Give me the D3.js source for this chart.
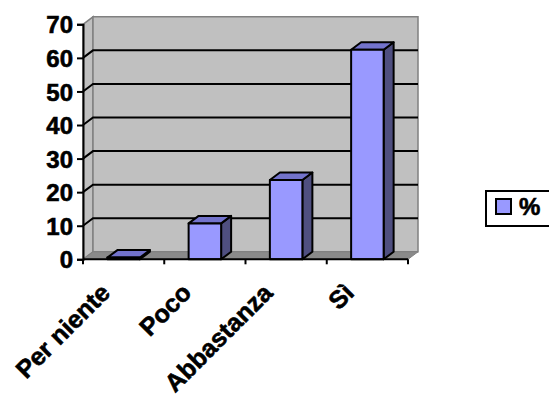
<!DOCTYPE html>
<html>
<head>
<meta charset="utf-8">
<script src="https://cdn.jsdelivr.net/npm/d3@7"></script>
<style>
  html, body { margin: 0; padding: 0; background: #fff; }
  svg { display: block; }
  text { font-family: "Liberation Sans", Arial, sans-serif; font-weight: bold; fill: #000; stroke: #000; stroke-width: 0.6px; }
</style>
</head>
<body>
<svg id="chart" width="549" height="399"></svg>
<script>
// Risposte (percentuali)
const categories = ["Per niente", "Poco", "Abbastanza", "Sì"];
const percent = [0.5, 10.7, 23.6, 62.4];
const yTicks = [0, 10, 20, 30, 40, 50, 60, 70];
const seriesName = "%";

const svg = d3.select("#chart");

// Front plane of the 3D box
const plotLeft = 83, plotRight = 408, plotBottom = 259.3, plotTop = 24.3;
// Depth offset of the back wall
const dx = 10, dy = -7.5;

const x = d3.scaleBand().domain(categories).range([plotLeft, plotRight]).paddingInner(0).paddingOuter(0);
const y = d3.scaleLinear().domain([0, 70]).range([plotBottom, plotTop]);

const wallFill = "#c0c0c0", wallStroke = "#808080", floorFill = "#8a8a8a";

// Left side wall
svg.append("polygon")
  .attr("points", [[plotLeft, plotTop], [plotLeft + dx, plotTop + dy], [plotLeft + dx, plotBottom + dy], [plotLeft, plotBottom]].join(" "))
  .attr("fill", wallFill).attr("stroke", wallStroke).attr("stroke-width", 1.5);

// Back wall
svg.append("polygon")
  .attr("points", [[plotLeft + dx, plotTop + dy], [plotRight + dx, plotTop + dy], [plotRight + dx, plotBottom + dy], [plotLeft + dx, plotBottom + dy]].join(" "))
  .attr("fill", wallFill).attr("stroke", wallStroke).attr("stroke-width", 1.5);

// Floor
svg.append("polygon")
  .attr("points", [[plotLeft, plotBottom], [plotLeft + dx, plotBottom + dy], [plotRight + dx, plotBottom + dy], [plotRight, plotBottom]].join(" "))
  .attr("fill", floorFill).attr("stroke", wallStroke).attr("stroke-width", 1);

// Gridlines: along the side wall and across the back wall
const grid = svg.append("g").attr("fill", "none").attr("stroke", "#000").attr("stroke-width", 2);
yTicks.filter(t => t > 0 && t < 70).forEach(t => {
  grid.append("path")
    .attr("d", `M${plotLeft},${y(t)}L${plotLeft + dx},${y(t) + dy}L${plotRight + dx},${y(t) + dy}`);
});

// Bars (front, top, side faces)
const barW = x.bandwidth() * 0.4;
const bars = svg.append("g").attr("stroke", "#000").attr("stroke-width", 2).attr("stroke-linejoin", "round");
categories.forEach((c, i) => {
  const x0 = x(c) + (x.bandwidth() - barW) / 2, x1 = x0 + barW;
  const yT = y(percent[i]), yB = y(0);
  // side
  bars.append("polygon")
    .attr("points", [[x1, yT], [x1 + dx, yT + dy], [x1 + dx, yB + dy], [x1, yB]].join(" "))
    .attr("fill", "#4f4f80");
  // top
  bars.append("polygon")
    .attr("points", [[x0, yT], [x0 + dx, yT + dy], [x1 + dx, yT + dy], [x1, yT]].join(" "))
    .attr("fill", "#7373cc");
  // front
  bars.append("rect")
    .attr("x", x0).attr("y", yT).attr("width", barW).attr("height", Math.max(0, yB - yT))
    .attr("fill", "#9999ff");
});

// Value axis
const yAxis = svg.append("g").attr("transform", `translate(${plotLeft},0)`)
  .call(d3.axisLeft(y).tickValues(yTicks).tickSize(6).tickPadding(4).tickFormat(d3.format("d")));
yAxis.select(".domain").attr("stroke", "#000").attr("stroke-width", 2);
yAxis.selectAll(".tick line").attr("stroke", "#000").attr("stroke-width", 2);
yAxis.selectAll(".tick text").attr("font-size", 24).attr("font-family", null).attr("dy", "0.36em");

// Category axis
const xAxis = svg.append("g").attr("transform", `translate(0,${plotBottom})`);
xAxis.append("line").attr("x1", plotLeft).attr("x2", plotRight).attr("stroke", "#000").attr("stroke-width", 2);
[...categories.map(c => x(c)), plotRight].forEach(v => {
  xAxis.append("line").attr("x1", v).attr("x2", v).attr("y1", 0).attr("y2", 5)
    .attr("stroke", "#000").attr("stroke-width", 2);
});
categories.forEach(c => {
  const cx = x(c) + x.bandwidth() / 2 - 12;
  xAxis.append("text")
    .attr("transform", `translate(${cx},35) rotate(-45)`)
    .attr("text-anchor", "end")
    .attr("font-size", 25)
    .text(c);
});

// Legend
const legend = svg.append("g");
legend.append("rect").attr("x", 486).attr("y", 191).attr("width", 80).attr("height", 35)
  .attr("fill", "#fff").attr("stroke", "#000").attr("stroke-width", 2);
legend.append("rect").attr("x", 496).attr("y", 199).attr("width", 15).attr("height", 15)
  .attr("fill", "#9999ff").attr("stroke", "#000").attr("stroke-width", 2);
legend.append("text").attr("x", 519).attr("y", 215).attr("font-size", 24).text(seriesName);
</script>
</body>
</html>
